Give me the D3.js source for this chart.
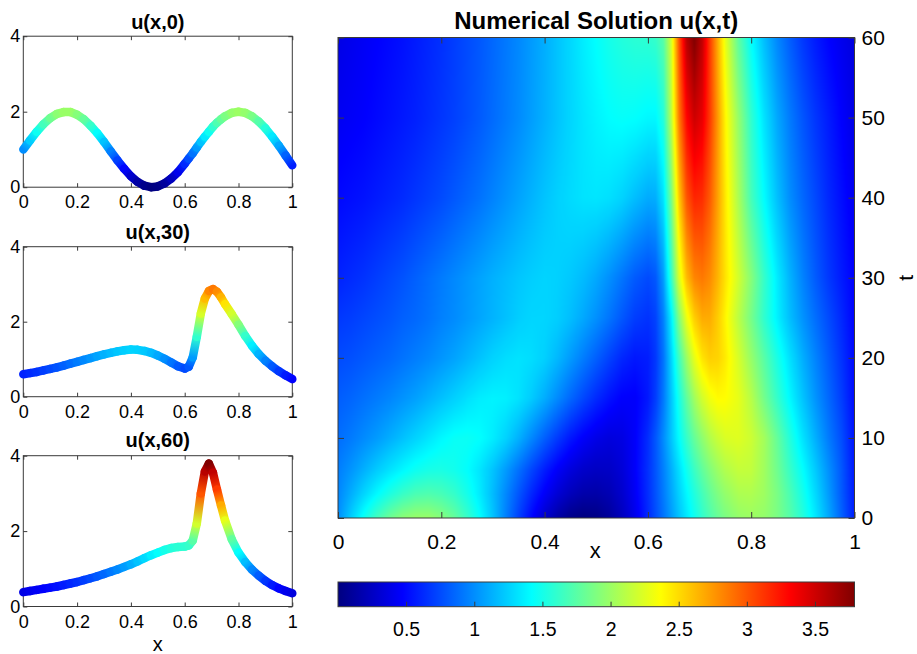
<!DOCTYPE html>
<html>
<head>
<meta charset="utf-8">
<script src="https://cdn.jsdelivr.net/npm/d3@7"></script>
<style>
  html, body { margin: 0; padding: 0; background: #fff; }
  svg { display: block; }
</style>
</head>
<body>
<svg id="fig" width="917" height="654"></svg>
<script>
// ---- data: solution u(x,t) sampled on a (t, x) grid ----
const xGrid = [0,0.025,0.05,0.075,0.1,0.125,0.15,0.175,0.2,0.225,0.25,0.275,0.3,0.325,0.35,0.375,0.4,0.425,0.45,0.475,0.5,0.525,0.55,0.575,0.6,0.615,0.63,0.645,0.66,0.675,0.69,0.705,0.72,0.735,0.75,0.775,0.8,0.825,0.85,0.875,0.9,0.925,0.95,0.975,1];
const tGrid = [0, 3, 6, 10, 15, 20, 25, 30, 40, 50, 60];

const u_t0  = [1.00,1.24,1.47,1.67,1.83,1.94,1.99,1.99,1.92,1.80,1.63,1.43,1.20,0.95,0.71,0.49,0.29,0.14,0.04,0.00,0.02,0.10,0.23,0.40,0.62,0.76,0.90,1.05,1.20,1.34,1.47,1.60,1.71,1.80,1.88,1.97,2.00,1.97,1.88,1.74,1.56,1.34,1.10,0.84,0.58];
const u_t3  = [0.97,1.12,1.27,1.41,1.53,1.63,1.70,1.72,1.69,1.62,1.50,1.35,1.17,0.98,0.79,0.61,0.45,0.32,0.22,0.16,0.15,0.19,0.29,0.44,0.64,0.78,0.93,1.09,1.25,1.40,1.54,1.67,1.79,1.89,1.97,2.06,2.07,2.01,1.88,1.70,1.50,1.28,1.05,0.81,0.57];
const u_t6  = [0.94,1.03,1.13,1.23,1.32,1.40,1.47,1.51,1.52,1.49,1.43,1.33,1.20,1.05,0.89,0.73,0.58,0.45,0.35,0.28,0.25,0.26,0.33,0.46,0.65,0.79,0.95,1.12,1.30,1.48,1.64,1.78,1.90,2.00,2.08,2.15,2.14,2.02,1.84,1.63,1.43,1.22,1.01,0.80,0.56];
const u_t10 = [0.88,0.93,0.99,1.05,1.12,1.19,1.26,1.33,1.40,1.45,1.46,1.43,1.36,1.26,1.13,0.98,0.83,0.69,0.56,0.46,0.39,0.35,0.37,0.46,0.64,0.80,0.99,1.20,1.42,1.62,1.80,1.95,2.08,2.17,2.23,2.25,2.18,2.03,1.80,1.55,1.32,1.12,0.93,0.76,0.54];
const u_t15 = [0.82,0.85,0.89,0.93,0.97,1.02,1.07,1.13,1.19,1.25,1.31,1.36,1.38,1.37,1.32,1.23,1.12,0.99,0.86,0.74,0.63,0.54,0.47,0.46,0.56,0.70,0.92,1.20,1.50,1.78,2.02,2.20,2.32,2.38,2.37,2.28,2.10,1.85,1.62,1.40,1.20,1.02,0.86,0.70,0.51];
const u_t20 = [0.75,0.77,0.80,0.83,0.86,0.90,0.94,0.98,1.03,1.08,1.14,1.20,1.26,1.30,1.32,1.30,1.25,1.16,1.05,0.94,0.83,0.72,0.62,0.56,0.58,0.68,0.90,1.25,1.65,2.00,2.28,2.46,2.55,2.53,2.44,2.22,1.98,1.75,1.52,1.31,1.12,0.96,0.81,0.66,0.50];
const u_t25 = [0.68,0.70,0.73,0.76,0.79,0.83,0.86,0.90,0.95,0.99,1.04,1.09,1.14,1.19,1.24,1.27,1.27,1.24,1.18,1.10,1.01,0.91,0.80,0.70,0.66,0.72,0.95,1.35,1.90,2.30,2.55,2.68,2.68,2.56,2.40,2.12,1.86,1.60,1.38,1.18,1.02,0.88,0.75,0.62,0.48];
const u_t30 = [0.60,0.63,0.66,0.70,0.74,0.78,0.83,0.88,0.93,0.98,1.03,1.08,1.13,1.17,1.21,1.24,1.26,1.25,1.22,1.17,1.10,1.01,0.91,0.81,0.75,0.80,1.05,1.60,2.22,2.62,2.82,2.87,2.80,2.65,2.47,2.20,1.92,1.62,1.36,1.14,0.96,0.81,0.68,0.57,0.47];
const u_t40 = [0.50,0.52,0.54,0.57,0.60,0.63,0.67,0.71,0.75,0.80,0.85,0.90,0.96,1.02,1.08,1.14,1.20,1.25,1.29,1.32,1.33,1.31,1.26,1.18,1.11,1.12,1.32,1.85,2.55,3.00,3.18,3.15,2.98,2.72,2.45,2.06,1.68,1.42,1.19,1.00,0.86,0.74,0.62,0.52,0.42];
const u_t50 = [0.43,0.45,0.47,0.50,0.53,0.56,0.59,0.63,0.67,0.71,0.76,0.81,0.87,0.93,0.99,1.06,1.13,1.20,1.27,1.33,1.38,1.42,1.44,1.43,1.40,1.40,1.55,2.10,2.85,3.30,3.50,3.40,3.10,2.75,2.40,1.98,1.60,1.32,1.10,0.93,0.79,0.67,0.57,0.47,0.38];
const u_t60 = [0.38,0.41,0.44,0.47,0.50,0.53,0.57,0.61,0.65,0.70,0.75,0.80,0.86,0.92,0.98,1.05,1.12,1.20,1.28,1.36,1.43,1.50,1.55,1.58,1.59,1.62,1.75,2.20,3.00,3.58,3.79,3.55,3.10,2.68,2.28,1.78,1.43,1.18,0.98,0.82,0.68,0.57,0.48,0.41,0.35];
const uRows = [u_t0, u_t3, u_t6, u_t10, u_t15, u_t20, u_t25, u_t30, u_t40, u_t50, u_t60];

// snapshot times shown as profiles on the left
const snapshotTimes = [0, 30, 60];

// tick values
const xTicks = [0, 0.2, 0.4, 0.6, 0.8, 1];
const tTicks = [0, 10, 20, 30, 40, 50, 60];
const uTicks = [0, 2, 4];
const cbarTicks = [0.5, 1, 1.5, 2, 2.5, 3, 3.5];

// ---- styling ----
const FONT = "'Liberation Sans', Arial, Helvetica, sans-serif";
const AXIS_COLOR = "#3a3a3a";
const svg = d3.select("#fig");

// jet colour map over the data range
const [cMin, cMax] = d3.extent(uRows.flat());
const jetStops = [0, 0.125, 0.375, 0.625, 0.875, 1];
const jetColors = ["#000080", "#0000ff", "#00ffff", "#ffff00", "#ff0000", "#800000"];
const color = d3.scaleLinear()
  .domain(jetStops.map(f => cMin + f * (cMax - cMin)))
  .range(jetColors)
  .clamp(true);

function styleAxis(g, fs) {
  g.attr("font-family", FONT).attr("font-size", fs);
  g.selectAll(".domain").remove();
  g.selectAll(".tick line").attr("stroke", AXIS_COLOR);
  g.selectAll(".tick text").attr("fill", "#000").attr("font-size", fs).attr("font-family", FONT);
}

// axes box with inward ticks on all four sides
function boxAxes(x, y, o) {
  const [x0, x1] = x.range();
  const [yb, yt] = y.range();
  const g = svg.append("g");
  const gb = g.append("g").attr("transform", `translate(0,${yb})`)
    .call(d3.axisBottom(x).tickValues(o.xTicks).tickSize(-o.tick).tickPadding(o.xPad)
      .tickFormat(o.xLabels ? d3.format("") : ""));
  const gt = g.append("g").attr("transform", `translate(0,${yt})`)
    .call(d3.axisTop(x).tickValues(o.xTicks).tickSize(-o.tick).tickFormat(""));
  const gl = g.append("g").attr("transform", `translate(${x0},0)`)
    .call(d3.axisLeft(y).tickValues(o.yTicks).tickSize(-o.tick).tickPadding(o.yPad)
      .tickFormat(o.yLeft ? d3.format("") : ""));
  const gr = g.append("g").attr("transform", `translate(${x1},0)`)
    .call(d3.axisRight(y).tickValues(o.yTicks).tickSize(-o.tick).tickPadding(o.yPad)
      .tickFormat(o.yRight ? d3.format("") : ""));
  [gb, gt, gl, gr].forEach(a => styleAxis(a, o.fs));
  g.append("rect")
    .attr("x", x0).attr("y", yt).attr("width", x1 - x0).attr("height", yb - yt)
    .attr("fill", "none").attr("stroke", AXIS_COLOR).attr("stroke-width", 1);
  return g;
}

// ---- left column: profiles u(x,t) at fixed times ----
const panels = [
  { top: 36.2,  bottom: 187.2, titleY: 29 },
  { top: 246.7, bottom: 396.7, titleY: 238.5 },
  { top: 455.7, bottom: 606.5, titleY: 447 }
];
const defs = svg.append("defs");
const xProf = d3.scaleLinear().domain([0, 1]).range([23.3, 292.3]);

snapshotTimes.forEach((tSnap, k) => {
  const p = panels[k];
  const yProf = d3.scaleLinear().domain([0, 4]).range([p.bottom, p.top]);
  const row = uRows[tGrid.indexOf(tSnap)];

  boxAxes(xProf, yProf, { fs: 18, tick: 4, xTicks, yTicks: uTicks, xPad: 8.5, yPad: 3,
                          xLabels: true, yLeft: true, yRight: false });

  // thick line coloured by value: one gradient per segment
  const gLine = svg.append("g");
  for (let i = 0; i < xGrid.length - 1; i++) {
    const xa = xProf(xGrid[i]), ya = yProf(row[i]);
    const xb = xProf(xGrid[i + 1]), yb = yProf(row[i + 1]);
    const id = `seg-${k}-${i}`;
    const grad = defs.append("linearGradient").attr("id", id)
      .attr("gradientUnits", "userSpaceOnUse")
      .attr("x1", xa).attr("y1", ya).attr("x2", xb).attr("y2", yb);
    grad.append("stop").attr("offset", 0).attr("stop-color", color(row[i]));
    grad.append("stop").attr("offset", 1).attr("stop-color", color(row[i + 1]));
    gLine.append("line")
      .attr("x1", xa).attr("y1", ya).attr("x2", xb).attr("y2", yb)
      .attr("stroke", `url(#${id})`)
      .attr("stroke-width", 8.5)
      .attr("stroke-linecap", "round");
  }

  svg.append("text")
    .attr("x", (xProf.range()[0] + xProf.range()[1]) / 2).attr("y", p.titleY)
    .attr("text-anchor", "middle").attr("font-family", FONT)
    .attr("font-size", 20).attr("font-weight", "bold")
    .text(`u(x,${tSnap})`);
});

svg.append("text")
  .attr("x", (xProf.range()[0] + xProf.range()[1]) / 2).attr("y", 651)
  .attr("text-anchor", "middle").attr("font-family", FONT).attr("font-size", 20)
  .text("x");

// ---- main panel: u(x,t) as an interpolated colour field ----
const hm = { left: 338, right: 854.5, top: 37.5, bottom: 518 };
const xMain = d3.scaleLinear().domain([0, 1]).range([hm.left, hm.right]);
const tMain = d3.scaleLinear().domain([0, 60]).range([hm.bottom, hm.top]);

const cw = Math.ceil(hm.right - hm.left), ch = Math.ceil(hm.bottom - hm.top);
const canvas = document.createElement("canvas");
canvas.width = cw; canvas.height = ch;
const ctx = canvas.getContext("2d");
const img = ctx.createImageData(cw, ch);
const bisect = d3.bisector(d => d).right;
function locate(grid, v) {
  let i = bisect(grid, v) - 1;
  i = Math.max(0, Math.min(grid.length - 2, i));
  const f = (v - grid[i]) / (grid[i + 1] - grid[i]);
  return [i, Math.max(0, Math.min(1, f))];
}
const LUT_N = 1024;
const lut = d3.range(LUT_N).map(k => d3.rgb(color(cMin + (cMax - cMin) * k / (LUT_N - 1))));
for (let py = 0; py < ch; py++) {
  const t = tMain.invert(hm.top + (py + 0.5) * (hm.bottom - hm.top) / ch);
  const [j, ft] = locate(tGrid, t);
  for (let px = 0; px < cw; px++) {
    const x = xMain.invert(hm.left + (px + 0.5) * (hm.right - hm.left) / cw);
    const [i, fx] = locate(xGrid, x);
    const a = uRows[j][i] * (1 - fx) + uRows[j][i + 1] * fx;
    const b = uRows[j + 1][i] * (1 - fx) + uRows[j + 1][i + 1] * fx;
    const v = a * (1 - ft) + b * ft;
    let k = Math.round((v - cMin) / (cMax - cMin) * (LUT_N - 1));
    k = Math.max(0, Math.min(LUT_N - 1, k));
    const c = lut[k], o = (py * cw + px) * 4;
    img.data[o] = c.r; img.data[o + 1] = c.g; img.data[o + 2] = c.b; img.data[o + 3] = 255;
  }
}
ctx.putImageData(img, 0, 0);
svg.append("image")
  .attr("href", canvas.toDataURL())
  .attr("x", hm.left).attr("y", hm.top)
  .attr("width", hm.right - hm.left).attr("height", hm.bottom - hm.top)
  .attr("preserveAspectRatio", "none");

boxAxes(xMain, tMain, { fs: 21, tick: 6, xTicks, yTicks: tTicks, xPad: 16, yPad: 7,
                        xLabels: true, yLeft: false, yRight: true });

svg.append("text")
  .attr("x", (hm.left + hm.right) / 2).attr("y", 29)
  .attr("text-anchor", "middle").attr("font-family", FONT)
  .attr("font-size", 24).attr("font-weight", "bold")
  .text("Numerical Solution u(x,t)");

svg.append("text")
  .attr("x", (hm.left + hm.right) / 2 - 1).attr("y", 558)
  .attr("text-anchor", "middle").attr("font-family", FONT).attr("font-size", 22)
  .text("x");

svg.append("text")
  .attr("transform", `translate(905.5,${tMain(30)}) rotate(-90)`)
  .attr("text-anchor", "middle").attr("dominant-baseline", "central")
  .attr("font-family", FONT).attr("font-size", 21)
  .text("t");

// ---- colour bar ----
const cb = { left: hm.left, right: hm.right, top: 582, bottom: 606.7 };
const cScale = d3.scaleLinear().domain([cMin, cMax]).range([cb.left, cb.right]);
const jetGrad = defs.append("linearGradient").attr("id", "jet")
  .attr("x1", 0).attr("y1", 0).attr("x2", 1).attr("y2", 0);
jetStops.forEach((s, i) => jetGrad.append("stop").attr("offset", s).attr("stop-color", jetColors[i]));
svg.append("rect")
  .attr("x", cb.left).attr("y", cb.top).attr("width", cb.right - cb.left).attr("height", cb.bottom - cb.top)
  .attr("fill", "url(#jet)");
const gCb = svg.append("g")
  .attr("transform", `translate(0,${cb.bottom})`)
  .call(d3.axisBottom(cScale).tickValues(cbarTicks).tickSize(-5).tickPadding(15.5).tickFormat(d3.format("")));
styleAxis(gCb, 19.5);
svg.append("rect")
  .attr("x", cb.left).attr("y", cb.top).attr("width", cb.right - cb.left).attr("height", cb.bottom - cb.top)
  .attr("fill", "none").attr("stroke", AXIS_COLOR).attr("stroke-width", 1);
</script>
</body>
</html>
